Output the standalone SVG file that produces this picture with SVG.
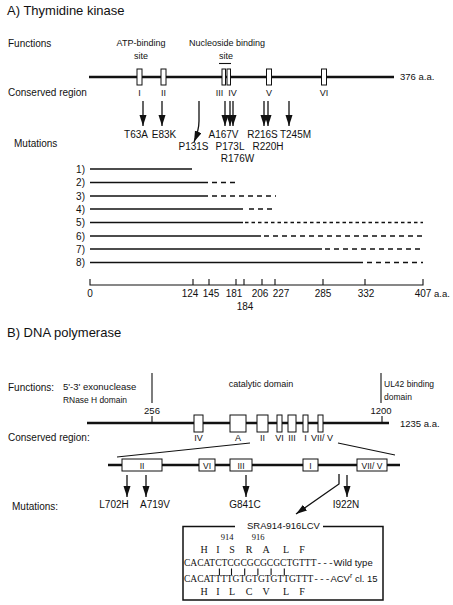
<svg xmlns="http://www.w3.org/2000/svg" width="453" height="605" viewBox="0 0 453 605">
<defs>
<marker id="ah" markerUnits="userSpaceOnUse" markerWidth="12" markerHeight="8" refX="11" refY="3.5" orient="auto">
<path d="M0,0 L11,3.5 L0,7 z" fill="#111"/>
</marker>
<style>
text{font-family:"Liberation Sans",Arial,sans-serif;fill:#111;font-size:10px}
.h{font-size:13px}
.s9{font-size:9px}
.s95{font-size:9.5px}
.s85{font-size:8.5px}
.m{text-anchor:middle}
.ser{font-family:"Liberation Serif","Times New Roman",serif}
.mono{font-family:"Liberation Mono","Courier New",monospace}
.main{stroke:#111;stroke-width:2.5;fill:none}
.thin{stroke:#111;stroke-width:1.1;fill:none}
.box{fill:#fff;stroke:#111;stroke-width:1}
.arr{stroke:#111;stroke-width:1.3;fill:none;marker-end:url(#ah)}
.sol{stroke:#111;stroke-width:1.7}
.dsh{stroke:#111;stroke-width:1.7;stroke-dasharray:5 4}
</style>
</defs>
<rect width="453" height="605" fill="#fff"/>

<!-- Section A -->
<g id="tk-title"><text class="h" x="7" y="15">A) Thymidine kinase</text></g>
<g id="tk-functions">
<text x="8" y="47">Functions</text>
<text class="s9 m" x="141" y="46">ATP-binding</text>
<text class="s9 m" x="141" y="59">site</text>
<text class="s9 m" x="227" y="46">Nucleoside binding</text>
<text class="s9 m" x="226" y="59">site</text>
<line class="thin" x1="219" y1="63.5" x2="231" y2="63.5"/>
</g>
<g id="tk-protein">
<line class="main" x1="89" y1="77" x2="394" y2="77"/>
<rect class="box" x="137" y="69" width="5" height="16"/>
<rect class="box" x="161" y="69" width="5" height="16"/>
<rect class="box" x="222" y="69" width="3.5" height="16"/>
<rect class="box" x="227" y="69" width="3.5" height="16"/>
<rect class="box" x="266.5" y="69" width="5" height="16"/>
<rect class="box" x="321.5" y="69" width="5" height="16"/>
<text class="s95" x="400" y="80">376 a.a.</text>
</g>
<g id="tk-conserved">
<text x="8" y="96">Conserved region</text>
<text class="s9 m" x="139.5" y="96">I</text>
<text class="s9 m" x="163.5" y="96">II</text>
<text class="s9 m" x="219.5" y="96">III</text>
<text class="s9 m" x="232.5" y="96">IV</text>
<text class="s9 m" x="269" y="96">V</text>
<text class="s9 m" x="324" y="96">VI</text>
</g>
<g id="tk-mutation-labels">
<text x="14" y="147">Mutations</text>
<text class="m" x="136" y="138">T63A</text>
<text class="m" x="164" y="138">E83K</text>
<text class="m" x="193.5" y="150">P131S</text>
<text class="m" x="223.5" y="138">A167V</text>
<text class="m" x="230" y="150">P173L</text>
<text class="m" x="237.5" y="162">R176W</text>
<text class="m" x="262.5" y="138">R216S</text>
<text class="m" x="268" y="150">R220H</text>
<text class="m" x="295.5" y="138">T245M</text>
</g>
<g id="tk-truncations">
<text x="85" y="172.5" text-anchor="end">1)</text>
<text x="85" y="186" text-anchor="end">2)</text>
<text x="85" y="199.5" text-anchor="end">3)</text>
<text x="85" y="212.5" text-anchor="end">4)</text>
<text x="85" y="226" text-anchor="end">5)</text>
<text x="85" y="239.5" text-anchor="end">6)</text>
<text x="85" y="252.5" text-anchor="end">7)</text>
<text x="85" y="266" text-anchor="end">8)</text>
<line class="sol" x1="90" y1="169" x2="192" y2="169"/>
<line class="sol" x1="90" y1="182.5" x2="208" y2="182.5"/>
<line class="dsh" x1="212" y1="182.5" x2="239" y2="182.5"/>
<line class="sol" x1="90" y1="196" x2="208" y2="196"/>
<line class="dsh" x1="212" y1="196" x2="276" y2="196"/>
<line class="sol" x1="90" y1="209" x2="243" y2="209"/>
<line class="dsh" x1="249" y1="209" x2="276" y2="209"/>
<line class="sol" x1="90" y1="222.5" x2="243" y2="222.5"/>
<line class="dsh" x1="245" y1="222.5" x2="423" y2="222.5" style="stroke-dasharray:3.5 3"/>
<line class="sol" x1="90" y1="236" x2="261" y2="236"/>
<line class="dsh" x1="264" y1="236" x2="423" y2="236"/>
<line class="sol" x1="90" y1="249" x2="322" y2="249"/>
<line class="dsh" x1="325" y1="249" x2="423" y2="249"/>
<line class="sol" x1="90" y1="262.5" x2="363" y2="262.5"/>
<line class="dsh" x1="367" y1="262.5" x2="423" y2="262.5"/>
</g>
<g id="tk-scale">
<path class="thin" d="M90,279 V285 H423 V279 M193,279 V285 M209,279 V285 M236,279 V285 M244,279 V285 M262,279 V285 M275,279 V285 M323,279 V285 M365,279 V285"/>
<text class="m" x="90" y="297">0</text>
<text class="m" x="190" y="297">124</text>
<text class="m" x="211" y="297">145</text>
<text class="m" x="234" y="297">181</text>
<text class="m" x="245" y="310">184</text>
<text class="m" x="260" y="297">206</text>
<text class="m" x="281" y="297">227</text>
<text class="m" x="323" y="297">285</text>
<text class="m" x="366" y="297">332</text>
<text class="m" x="423" y="297">407</text>
<text class="s95" x="434" y="297">a.a.</text>
</g>

<!-- Section B -->
<g id="pol-title"><text class="h" x="7" y="337">B) DNA polymerase</text></g>
<g id="pol-functions">
<text x="8" y="391">Functions:</text>
<text class="s95" x="63" y="390">5'-3' exonuclease</text>
<text class="s95" x="63" y="403" textLength="64" lengthAdjust="spacingAndGlyphs">RNase H domain</text>
<line class="thin" x1="152" y1="373" x2="152" y2="403"/>
<text class="s9 m" x="261" y="387">catalytic domain</text>
<line class="thin" x1="381" y1="373" x2="381" y2="403"/>
<text class="s85" x="384" y="387">UL42 binding</text>
<text class="s85" x="384" y="400">domain</text>
</g>
<g id="pol-protein">
<text class="s95 m" x="152" y="414">256</text>
<text class="s95 m" x="381" y="414">1200</text>
<line class="main" x1="87" y1="423" x2="389" y2="423"/>
<path class="thin" d="M152,416 V423 M382,416 V423"/>
<rect class="box" x="194" y="415" width="9" height="17"/>
<rect class="box" x="230" y="415" width="16" height="17"/>
<rect class="box" x="257" y="415" width="11" height="17"/>
<rect class="box" x="277" y="415" width="5" height="17"/>
<rect class="box" x="288" y="415" width="8" height="17"/>
<rect class="box" x="303" y="415" width="5" height="17"/>
<rect class="box" x="318" y="415" width="5" height="17"/>
<text class="s95" x="400" y="427">1235 a.a.</text>
</g>
<g id="pol-conserved">
<text x="8" y="441">Conserved region:</text>
<text class="s9 m" x="198.5" y="441">IV</text>
<text class="s9 m" x="238" y="441">A</text>
<text class="s9 m" x="262.5" y="441">II</text>
<text class="s9 m" x="279.5" y="441">VI</text>
<text class="s9 m" x="292" y="441">III</text>
<text class="s9 m" x="305.5" y="441">I</text>
<text class="s9 m" x="322" y="441">VII/ V</text>
</g>
<g id="pol-expanded">
<path class="thin" d="M250,443 L117,457 M338,443 L395,455"/>
<line class="main" x1="108" y1="465" x2="400" y2="465"/>
<rect class="box" x="122" y="459" width="40" height="12"/>
<rect class="box" x="199" y="459" width="16" height="12"/>
<rect class="box" x="230" y="459" width="22" height="12"/>
<rect class="box" x="303" y="459" width="15" height="12"/>
<rect class="box" x="357" y="459" width="30" height="12"/>
<text class="s85 m" x="142" y="468.5">II</text>
<text class="s85 m" x="207" y="468.5">VI</text>
<text class="s85 m" x="241" y="468.5">III</text>
<text class="s85 m" x="310.5" y="468.5">I</text>
<text class="s85 m" x="372" y="468.5">VII/ V</text>
</g>
<g id="pol-mutations">
<text x="12" y="510">Mutations:</text>
<text class="m" x="114" y="508">L702H</text>
<text class="m" x="155" y="508">A719V</text>
<text class="m" x="245" y="508">G841C</text>
<text class="m" x="346" y="508">I922N</text>
</g>
<g id="connectors">
<line class="arr" x1="143" y1="101" x2="143" y2="126"/>
<line class="arr" x1="162" y1="101" x2="162" y2="126"/>
<path class="arr" d="M199,101 V121 Q199,130 194,142"/>
<line class="arr" x1="225" y1="101" x2="225" y2="126"/>
<line class="arr" x1="230" y1="101" x2="230" y2="126"/>
<line class="arr" x1="233" y1="101" x2="233" y2="126"/>
<line class="arr" x1="264" y1="101" x2="264" y2="126"/>
<line class="arr" x1="268" y1="101" x2="268" y2="126"/>
<line class="arr" x1="289" y1="101" x2="289" y2="126"/>
<line class="arr" x1="127" y1="475" x2="127" y2="497"/>
<line class="arr" x1="146" y1="475" x2="146" y2="497"/>
<line class="arr" x1="246" y1="475" x2="246" y2="497"/>
<line class="arr" x1="347" y1="475" x2="347" y2="497"/>
<path class="arr" d="M339,474 V484 L296,514"/>
</g>
<g id="sequence-box">
<path d="M235,526.5 H183 V600 H383 V526.5 H323" fill="none" stroke="#111" stroke-width="1.5"/>
<text class="s95" x="247" y="529">SRA914-916LCV</text>
<text class="ser s85 m" x="227" y="540">914</text>
<text class="ser s85 m" x="258" y="540">916</text>
<g class="ser" font-size="9">
<text class="ser m" x="204" y="553">H</text>
<text class="ser m" x="218" y="553">I</text>
<text class="ser m" x="232" y="553">S</text>
<text class="ser m" x="249" y="553">R</text>
<text class="ser m" x="266" y="553">A</text>
<text class="ser m" x="286" y="553">L</text>
<text class="ser m" x="302" y="553">F</text>
<text class="ser m" x="204" y="595">H</text>
<text class="ser m" x="218" y="595">I</text>
<text class="ser m" x="232" y="595">L</text>
<text class="ser m" x="249" y="595">C</text>
<text class="ser m" x="266" y="595">V</text>
<text class="ser m" x="286" y="595">L</text>
<text class="ser m" x="302" y="595">F</text>
</g>
<text class="s95" x="184" y="566"><tspan class="ser">CACATCTCGCGCGCGCTGTTT</tspan><tspan class="mono">---</tspan><tspan>Wild type</tspan></text>
<path class="thin" d="M219.4,568.5 V575 M231.5,568.5 V575 M244.7,568.5 V575 M257.9,568.5 V575 M271.1,568.5 V575 M284.3,568.5 V575"/>
<text class="s95" x="184" y="582"><tspan class="ser">CACATTTTGTGTGTGTTGTTT</tspan><tspan class="mono">---</tspan><tspan>ACV</tspan><tspan font-size="7" dy="-4">r</tspan><tspan dy="4"> cl. 15</tspan></text>
</g>
</svg>
